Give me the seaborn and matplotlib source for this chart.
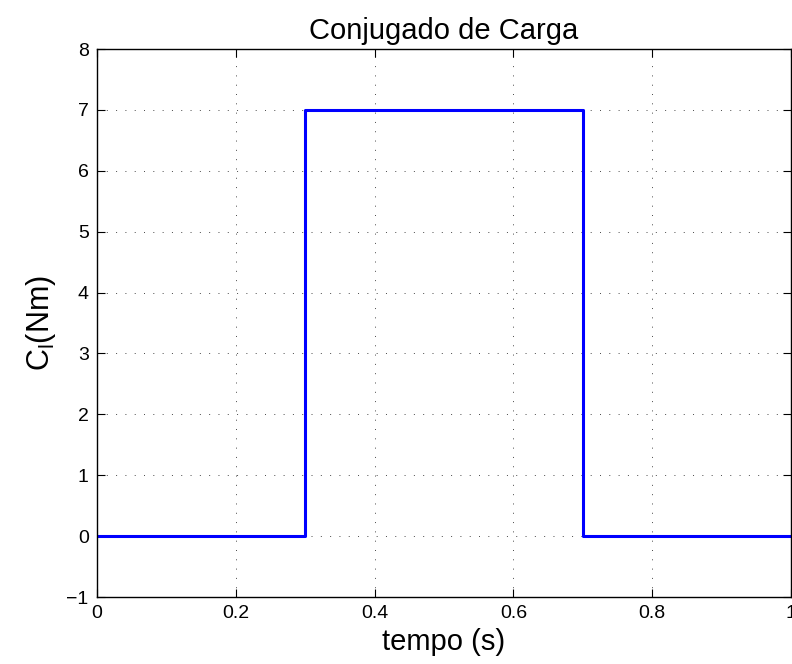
import matplotlib
matplotlib.use("Agg")
import matplotlib.pyplot as plt
import seaborn as sns
import pandas as pd

# Load torque profile (step on at 0.3 s, off at 0.7 s)
tempo = [0.0, 0.3, 0.3, 0.7, 0.7, 1.0]
conjugado = [0.0, 0.0, 7.0, 7.0, 0.0, 0.0]
x_ticks = [0, 0.2, 0.4, 0.6, 0.8, 1]
x_tick_labels = ["0", "0.2", "0.4", "0.6", "0.8", "1"]
y_ticks = [-1, 0, 1, 2, 3, 4, 5, 6, 7, 8]

sns.set_theme(style="white")
plt.rcParams["font.family"] = ["Liberation Sans", "DejaVu Sans"]
plt.rcParams["mathtext.fontset"] = "custom"
plt.rcParams["mathtext.rm"] = "Liberation Sans"
plt.rcParams["mathtext.it"] = "Liberation Sans"

df = pd.DataFrame({"tempo": tempo, "conjugado": conjugado})

fig = plt.figure(figsize=(7.92, 6.64), dpi=100)
ax = fig.add_axes([0.1225, 0.1009, 0.8763, 0.8253])

sns.lineplot(data=df, x="tempo", y="conjugado", estimator=None, sort=False,
             color="#0000ff", linewidth=2.2, ax=ax)

ax.set_xlim(0, 1)
ax.set_ylim(-1, 8)
ax.set_xticks(x_ticks)
ax.set_xticklabels(x_tick_labels)
ax.set_yticks(y_ticks)
ax.set_yticklabels(["\u2212" + str(-v) if v < 0 else str(v) for v in y_ticks])

ax.grid(True, color="black", linestyle=(0, (1.4, 12)), linewidth=0.5)
ax.set_axisbelow(True)
for s in ax.spines.values():
    s.set_color("black")
    s.set_linewidth(1.0)
    s.set_visible(True)

ax.tick_params(axis="both", which="both", direction="in", length=6, width=0.8,
               colors="black", labelsize=14, top=True, right=True,
               bottom=True, left=True, pad=6)

ax.set_title("Conjugado de Carga", fontsize=21, color="black", pad=7)
ax.set_xlabel("tempo (s)", fontsize=21, color="black", labelpad=4)
ax.set_ylabel(r"C$_\mathrm{l}$(Nm)", fontsize=22, color="black", labelpad=6)

fig.savefig("out.png", dpi=100)
